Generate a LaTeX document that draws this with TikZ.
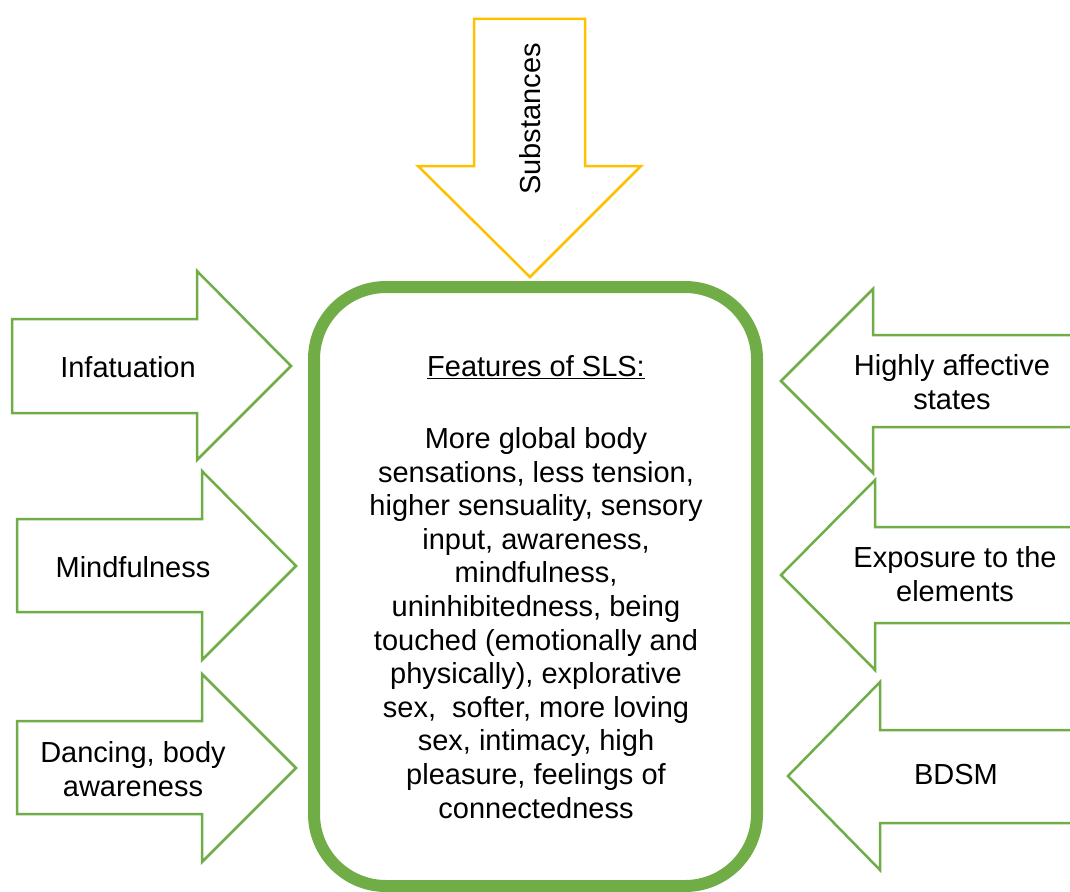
\documentclass[tikz,border=0pt]{standalone}
\usepackage{fontspec}
\setmainfont{Liberation Sans}
\usepackage{tikz}
\usepackage{xcolor}
\definecolor{leafgreen}{HTML}{70AD47}
\definecolor{amber}{HTML}{FFC000}

\begin{document}
\begin{tikzpicture}[x=1pt,y=-1pt,
  greenarrow/.style={draw=leafgreen, line width=2.5pt, fill=white},
  amberarrow/.style={draw=amber, line width=2.5pt, fill=white},
  slsbox/.style={draw=leafgreen, line width=12pt, rounded corners=72pt},
  plaintext/.style={font=\fontsize{29pt}{33.6pt}\selectfont, align=center, inner sep=0pt}]
\useasboundingbox (0,0) rectangle (1070,891);

% central box
\draw[slsbox] (314,287) rectangle (757,886);
\node[plaintext] (title) at (536,367) {\underline{Features of SLS:}};
\node[plaintext] (features) at (536,623) {More global body\\ sensations, less tension,\\ higher sensuality, sensory\\ input, awareness,\\ mindfulness,\\ uninhibitedness, being\\ touched (emotionally and\\ physically), explorative\\ sex,\ \ softer, more loving\\ sex, intimacy, high\\ pleasure, feelings of\\ connectedness};

% arrow from above
\draw[amberarrow] (474,19) -- (585,19) -- (585,166) -- (641,166) -- (530,277) -- (418,166) -- (474,166) -- cycle;
\node[plaintext, rotate=90] (substances) at (530,119) {Substances};

% arrows from the left
\draw[greenarrow] (12,319) -- (197,319) -- (197,271) -- (291,366) -- (197,460) -- (197,413) -- (12,413) -- cycle;
\node[plaintext] (infatuation) at (128,367) {Infatuation};
\draw[greenarrow] (17,519) -- (202,519) -- (202,471) -- (296,566) -- (202,660) -- (202,612) -- (17,612) -- cycle;
\node[plaintext] (mindfulness) at (133,567) {Mindfulness};
\draw[greenarrow] (17,721) -- (202,721) -- (202,674) -- (296,768) -- (202,862) -- (202,814) -- (17,814) -- cycle;
\node[plaintext] (dancing) at (133,769) {Dancing, body\\ awareness};

% arrows from the right
\draw[greenarrow] (1080,335) -- (873,335) -- (873,289) -- (781,381) -- (873,473) -- (873,427) -- (1080,427) -- cycle;
\node[plaintext] (affective) at (952,382) {Highly affective\\ states};
\draw[greenarrow] (1080,527) -- (875,527) -- (875,480) -- (781,575) -- (875,670) -- (875,623) -- (1080,623) -- cycle;
\node[plaintext] (exposure) at (955,574) {Exposure to the\\ elements};
\draw[greenarrow] (1080,730) -- (880,730) -- (880,682) -- (788,776) -- (880,870) -- (880,823) -- (1080,823) -- cycle;
\node[plaintext] (bdsm) at (956,775) {BDSM};
\end{tikzpicture}
\end{document}
